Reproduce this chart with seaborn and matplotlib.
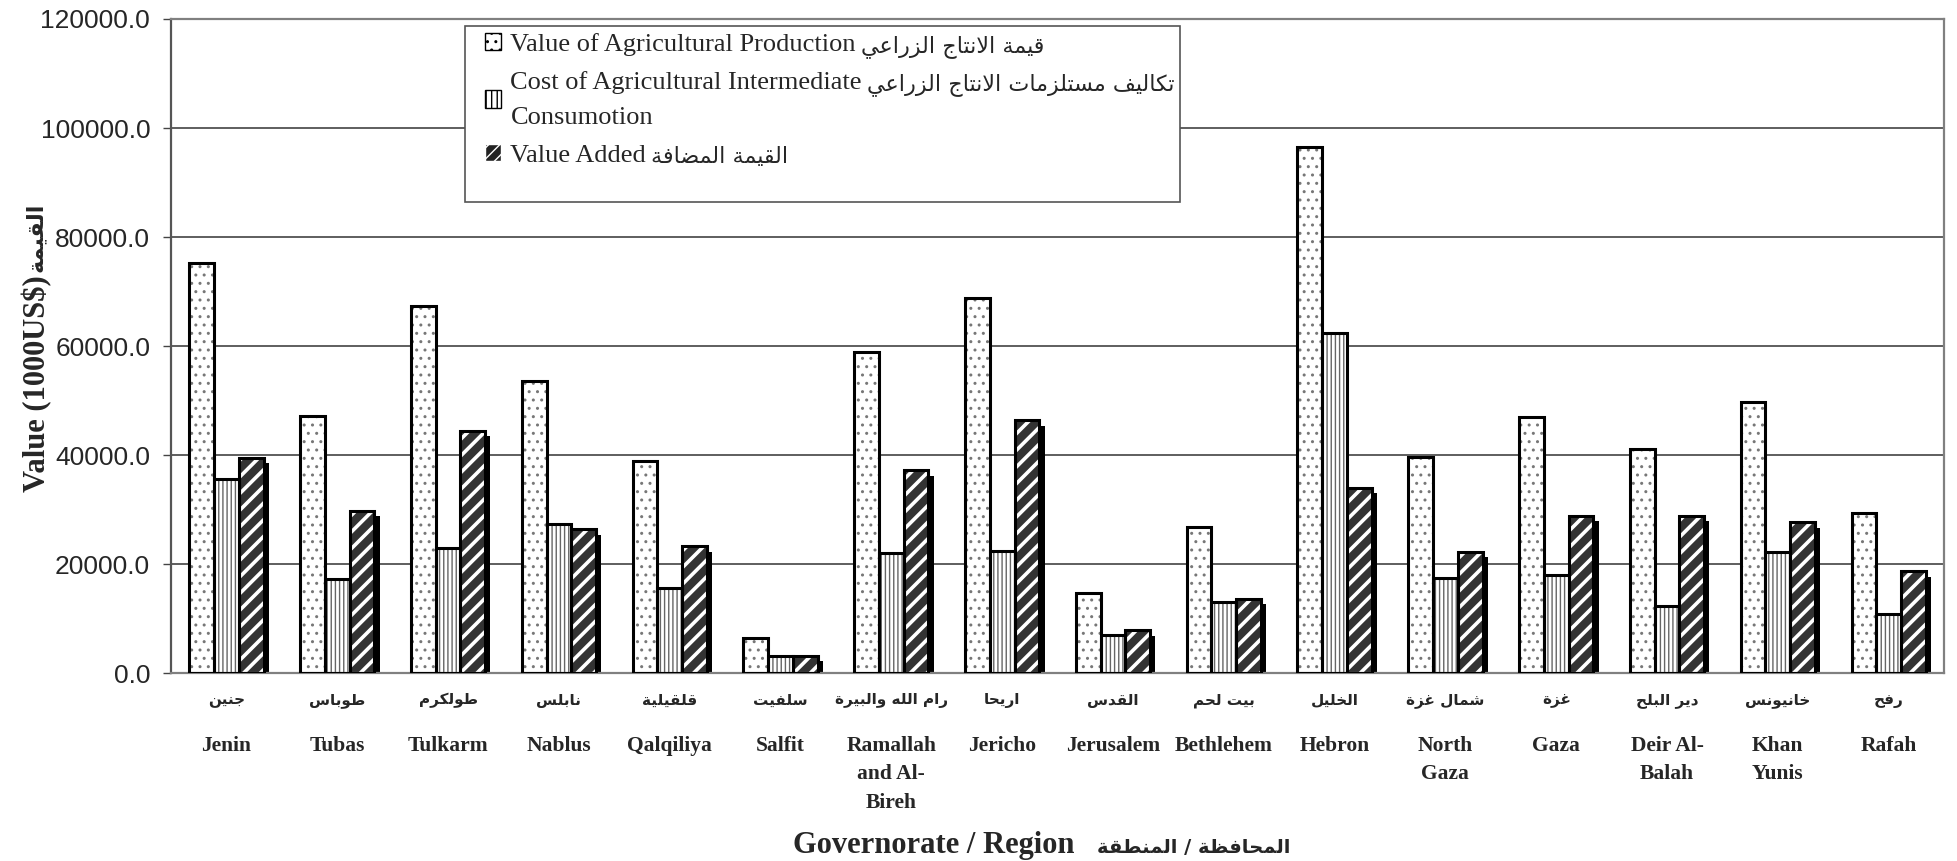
import matplotlib
matplotlib.use("Agg")
import matplotlib.pyplot as plt
import matplotlib.patheffects as pe
from matplotlib.patches import Patch, Rectangle
import pandas as pd
import seaborn as sns

regions_en = ["Jenin", "Tubas", "Tulkarm", "Nablus", "Qalqiliya", "Salfit",
              "Ramallah\nand Al-\nBireh", "Jericho", "Jerusalem", "Bethlehem",
              "Hebron", "North\nGaza", "Gaza", "Deir Al-\nBalah", "Khan\nYunis", "Rafah"]
regions_ar = ["جنين", "طوباس", "طولكرم", "نابلس", "قلقيلية", "سلفيت",
              "رام الله والبيرة", "اريحا", "القدس", "بيت لحم",
              "الخليل", "شمال غزة", "غزة", "دير البلح", "خانيونس", "رفح"]

# 1000 US$
production = [75200, 47200, 67400, 53600, 39000, 6400, 59000, 68800,
              14800, 26900, 96500, 39700, 47000, 41200, 49800, 29400]
intermediate = [35600, 17300, 23000, 27300, 15700, 3250, 22000, 22500,
                7000, 13000, 62400, 17400, 18000, 12400, 22300, 10800]
value_added = [39500, 29800, 44400, 26400, 23300, 3200, 37200, 46400,
               7900, 13700, 34000, 22300, 28900, 28900, 27700, 18700]

series_names = ["Value of Agricultural Production",
                "Cost of Agricultural Intermediate\nConsumotion",
                "Value Added"]
series_ar = ["قيمة الانتاج الزراعي",
             "تكاليف مستلزمات الانتاج الزراعي",
             "القيمة المضافة"]

# matplotlib has no arabic shaping, so map letters to presentation forms
FORMS = {
    "\u0621": (0xFE80, 1), "\u0622": (0xFE81, 2), "\u0623": (0xFE83, 2),
    "\u0624": (0xFE85, 2), "\u0625": (0xFE87, 2), "\u0626": (0xFE89, 4),
    "\u0627": (0xFE8D, 2), "\u0628": (0xFE8F, 4), "\u0629": (0xFE93, 2),
    "\u062A": (0xFE95, 4), "\u062B": (0xFE99, 4), "\u062C": (0xFE9D, 4),
    "\u062D": (0xFEA1, 4), "\u062E": (0xFEA5, 4), "\u062F": (0xFEA9, 2),
    "\u0630": (0xFEAB, 2), "\u0631": (0xFEAD, 2), "\u0632": (0xFEAF, 2),
    "\u0633": (0xFEB1, 4), "\u0634": (0xFEB5, 4), "\u0635": (0xFEB9, 4),
    "\u0636": (0xFEBD, 4), "\u0637": (0xFEC1, 4), "\u0638": (0xFEC5, 4),
    "\u0639": (0xFEC9, 4), "\u063A": (0xFECD, 4), "\u0641": (0xFED1, 4),
    "\u0642": (0xFED5, 4), "\u0643": (0xFED9, 4), "\u0644": (0xFEDD, 4),
    "\u0645": (0xFEE1, 4), "\u0646": (0xFEE5, 4), "\u0647": (0xFEE9, 4),
    "\u0648": (0xFEED, 2), "\u0649": (0xFEEF, 2), "\u064A": (0xFEF1, 4),
}
LAM_ALEF = {"\u0627": 0xFEFB, "\u0622": 0xFEF5, "\u0623": 0xFEF7, "\u0625": 0xFEF9}


def shape(text):
    """Return arabic text in joined presentation forms, visual order."""
    tokens = []
    i = 0
    while i < len(text):
        c = text[i]
        if c == "\u0644" and i + 1 < len(text) and text[i + 1] in LAM_ALEF:
            tokens.append((LAM_ALEF[text[i + 1]], 2))
            i += 2
        elif c in FORMS:
            tokens.append(FORMS[c])
            i += 1
        else:
            tokens.append(c)
            i += 1
    out = []
    for k, t in enumerate(tokens):
        if isinstance(t, str):
            out.append(t)
            continue
        base, n = t
        prev = tokens[k - 1] if k > 0 else None
        nxt = tokens[k + 1] if k + 1 < len(tokens) else None
        link_prev = n >= 2 and isinstance(prev, tuple) and prev[1] == 4
        link_next = n == 4 and isinstance(nxt, tuple) and nxt[1] >= 2
        if link_prev and link_next:
            off = 3
        elif link_next:
            off = 2
        elif link_prev:
            off = 1
        else:
            off = 0
        out.append(chr(base + off))
    return "".join(out)[::-1]


df = pd.DataFrame({
    "Region": regions_en * 3,
    "Series": [s for s in series_names for _ in regions_en],
    "Value": production + intermediate + value_added,
})

sns.set_theme(style="white")
serif = ["Liberation Serif", "DejaVu Sans"]
plt.rcParams["font.family"] = serif
plt.rcParams["hatch.linewidth"] = 1.0

fig, ax = plt.subplots(figsize=(19.57, 8.61), dpi=100)
fig.subplots_adjust(left=0.0874, right=0.9934, top=0.978, bottom=0.218)

sns.barplot(data=df, x="Region", y="Value", hue="Series", hue_order=series_names,
            width=0.67, ax=ax, legend=False, saturation=1)

styles = [
    dict(face="white", hatch="..", hcolor="#777777", hlw=1.0),
    dict(face="white", hatch="||||", hcolor="#666666", hlw=1.0),
    dict(face="#333333", hatch="//", hcolor="white", hlw=2.6),
]
for cont, st in zip(ax.containers, styles):
    for p in cont:
        p.set_facecolor(st["face"])
        p.set_edgecolor(st["hcolor"])
        p.set_linewidth(0)
        p.set_hatch(st["hatch"])
        if hasattr(p, "set_hatch_linewidth"):
            p.set_hatch_linewidth(st["hlw"])
        ax.add_patch(Rectangle(p.get_xy(), p.get_width(), p.get_height(),
                               fill=False, edgecolor="black", linewidth=2.2, zorder=3))

# black drop shadow on the value added bars
for p in ax.containers[2]:
    p.set_path_effects([pe.SimplePatchShadow(offset=(3.8, -3.8), shadow_rgbFace="black",
                                             alpha=1.0, hatch=None),
                        pe.Normal()])

ax.set_ylim(0, 120000)
ax.set_yticks(range(0, 120001, 20000))
ax.set_yticklabels([f"{v:.1f}" for v in range(0, 120001, 20000)],
                   family="Liberation Sans", fontsize=19)
ax.yaxis.grid(True, color="#333333", linewidth=1.1)
ax.set_axisbelow(True)
ax.tick_params(axis="y", left=True, length=6, width=1, color="#444444", pad=9)

ticks = ax.get_xticks()
ax.set_xticks(ticks)
ax.set_xticklabels([shape(a) for a in regions_ar], family="DejaVu Sans",
                   fontweight="bold", fontsize=11)
ax.tick_params(axis="x", length=0, pad=14)
for x, name in zip(ticks, regions_en):
    ax.annotate(name, xy=(x, 0), xycoords=("data", "axes fraction"),
                xytext=(0, -45), textcoords="offset points", ha="center", va="top",
                fontsize=15.5, fontweight="bold", family="Liberation Serif", linespacing=1.56)

for side in ["left", "right", "top", "bottom"]:
    ax.spines[side].set_color("#808080")
    ax.spines[side].set_linewidth(1.6)
ax.spines["left"].set_color("#555555")

ax.set_xlabel("Governorate / Region", fontsize=22, fontweight="bold",
              ha="right", va="baseline")
ax.xaxis.set_label_coords(0.5093, -0.274)
ax.text(0.5223, -0.274, shape("المحافظة / المنطقة"), transform=ax.transAxes,
        ha="left", va="baseline", fontsize=14, fontweight="bold", family="DejaVu Sans")

ax.set_ylabel("Value (1000US$)", fontsize=22, fontweight="bold",
              ha="left", va="center", rotation_mode="anchor")
ax.yaxis.set_label_coords(-0.0755, 0.277)
ax.text(-0.0765, 0.719, shape("القيمة"), transform=ax.transAxes, rotation=90,
        rotation_mode="anchor", ha="right", va="center", fontsize=16,
        fontweight="bold", family="DejaVu Sans")

# legend box
ax.add_patch(Rectangle((0.166, 0.720), 0.403, 0.269, transform=ax.transAxes,
                       facecolor="white", edgecolor="#555555", linewidth=1.2, zorder=6))
handles = [
    Patch(facecolor="white", edgecolor="black", hatch=".."),
    Patch(facecolor="white", edgecolor="black", hatch="|||"),
    Patch(facecolor="#222222", edgecolor="white", hatch="///"),
]
leg = ax.legend(handles, series_names, loc="upper left", bbox_to_anchor=(0.177, 0.979),
                frameon=False, prop=dict(family="Liberation Serif", size=19),
                handlelength=0.62, handleheight=0.62, handletextpad=0.35,
                labelspacing=0.58, borderpad=0, borderaxespad=0)
leg.set_zorder(7)
for t in leg.get_texts():
    t.set_linespacing(1.74)

# arabic part of each legend entry, written after the english words
fig.canvas.draw()
renderer = fig.canvas.get_renderer()
to_fig = fig.transFigure.inverted()
for t, ar in zip(leg.get_texts(), series_ar):
    bb = t.get_window_extent(renderer)
    fx, fy = to_fig.transform((bb.x1 + 5, bb.y1 - 2))
    fig.text(fx, fy, shape(ar), ha="left", va="top", fontsize=16,
             family="DejaVu Sans", zorder=8)

fig.savefig("out.png", dpi=100)
